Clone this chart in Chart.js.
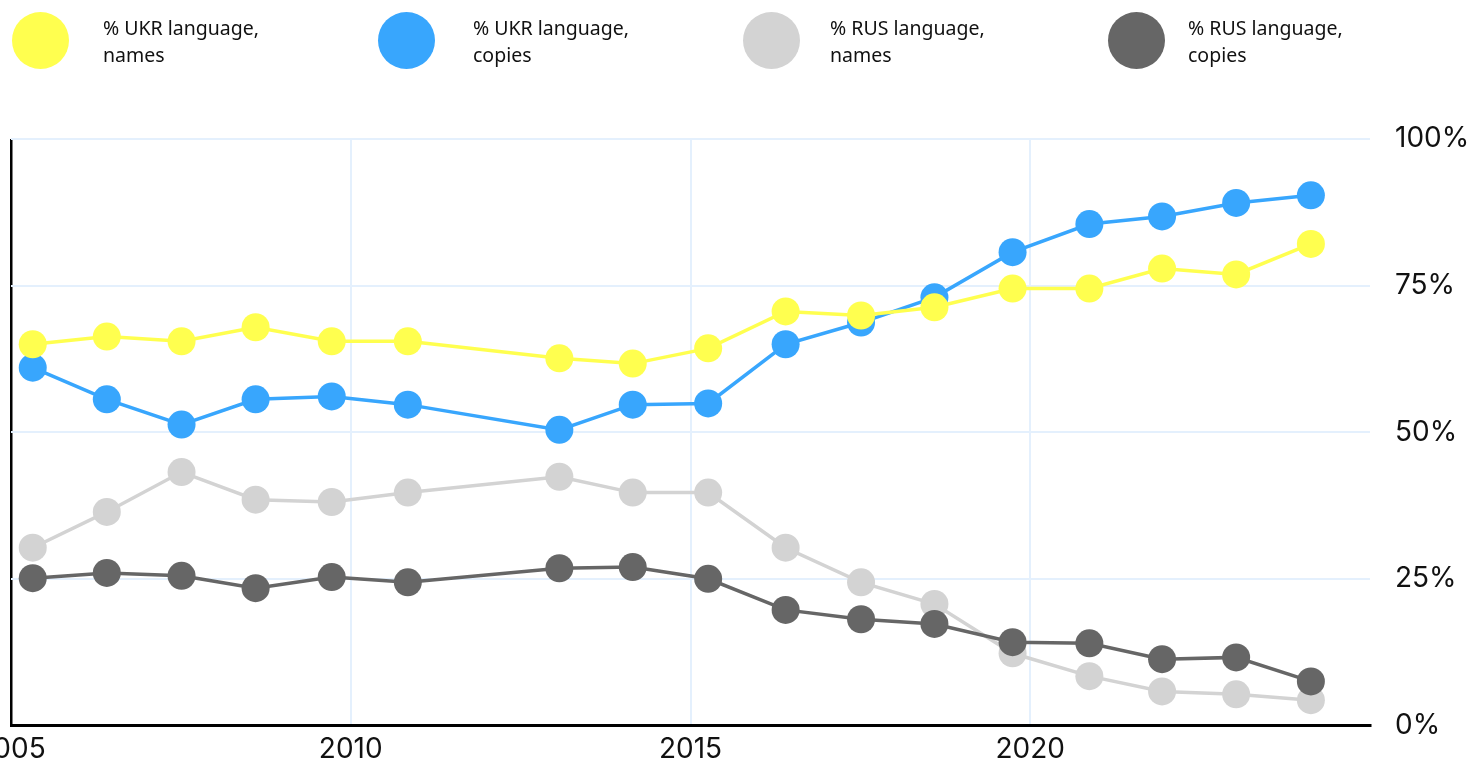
<!DOCTYPE html>
<html>
<head>
<meta charset="utf-8">
<script src="https://cdn.jsdelivr.net/npm/chart.js@4"></script>
<style>
  html, body { margin: 0; padding: 0; background: #fff; overflow: hidden; }
  #wrap { position: relative; width: 1473px; height: 762px; overflow: hidden; }
  #langChart { display: block; position: absolute; left: -3px; top: 0; }
  #legend { position: absolute; left: 0; top: 0; width: 1473px; height: 80px; font-family: "Noto Sans", sans-serif; font-size: 19.5px; line-height: 27px; color: #111; }
  .item { position: absolute; top: 12px; display: flex; align-items: center; }
  .dot { width: 57px; height: 57px; border-radius: 50%; }
</style>
</head>
<body>
<div id="wrap">
  <canvas id="langChart" width="1476" height="773"></canvas>
  <div id="legend"></div>
</div>
<script>
// ── Data ─────────────────────────────────────────────────────
const years = [2005.32, 2006.41, 2007.51, 2008.6, 2009.72, 2010.84, 2013.07, 2014.15, 2015.26,
               2016.4, 2017.51, 2018.59, 2019.74, 2020.87, 2021.94, 2023.03, 2024.13];
const ukrNames  = [65.0, 66.3, 65.5, 67.9, 65.5, 65.5, 62.6, 61.7, 64.3, 70.6, 69.9, 71.3, 74.5, 74.5, 77.9, 76.9, 82.1];
const ukrCopies = [61.0, 55.6, 51.3, 55.6, 56.1, 54.7, 50.4, 54.7, 54.9, 65.0, 68.7, 73.0, 80.7, 85.5, 86.8, 89.1, 90.4];
const rusNames  = [30.3, 36.4, 43.2, 38.5, 38.1, 39.7, 42.4, 39.7, 39.7, 30.3, 24.4, 20.7, 12.3, 8.4, 5.8, 5.3, 4.3];
const rusCopies = [25.1, 26.0, 25.5, 23.4, 25.3, 24.4, 26.8, 27.0, 25.0, 19.7, 18.1, 17.3, 14.2, 14.0, 11.3, 11.6, 7.5];
const xTicks = [2005, 2010, 2015, 2020, 2025];
const yTicks = [0, 25, 50, 75, 100];

const series = [
    { label: '% UKR language,\nnames',  values: ukrNames,  color: '#ffff4f', order: 0 },
    { label: '% UKR language,\ncopies', values: ukrCopies, color: '#38a6fd', order: 1 },
    { label: '% RUS language,\nnames',  values: rusNames,  color: '#d3d3d3', order: 3 },
    { label: '% RUS language,\ncopies', values: rusCopies, color: '#666666', order: 2 }
];

// ── Legend (HTML) ────────────────────────────────────────────
const legendLeft = [12, 378, 743, 1108];
const legendGap = [34, 38, 30, 23];
const legendEl = document.getElementById('legend');
series.forEach((s, i) => {
    const item = document.createElement('div');
    item.className = 'item';
    item.style.left = legendLeft[i] + 'px';
    const dot = document.createElement('div');
    dot.className = 'dot';
    dot.style.background = s.color;
    const txt = document.createElement('div');
    txt.style.marginLeft = legendGap[i] + 'px';
    txt.innerHTML = s.label.replace('\n', '<br>');
    item.appendChild(dot);
    item.appendChild(txt);
    legendEl.appendChild(item);
});

// ── Line chart ───────────────────────────────────────────────
const gridBlue = '#e4f0fd';
const ctx = document.getElementById('langChart').getContext('2d');
new Chart(ctx, {
    type: 'line',
    data: {
        datasets: series.map(s => ({
            label: s.label,
            data: years.map((x, i) => ({ x: x, y: s.values[i] })),
            borderColor: s.color,
            backgroundColor: s.color,
            borderWidth: 3.5,
            pointRadius: 14,
            pointHoverRadius: 14,
            pointBorderWidth: 0,
            tension: 0,
            order: s.order,
            clip: false
        }))
    },
    options: {
        responsive: false,
        animation: false,
        layout: { padding: { left: 8, top: 139, right: 0, bottom: 0 } },
        plugins: { legend: { display: false }, tooltip: { enabled: false } },
        scales: {
            x: {
                type: 'linear',
                min: 2005,
                max: 2025,
                afterBuildTicks: axis => { axis.ticks = xTicks.map(v => ({ value: v })); },
                afterFit: axis => { axis.paddingLeft = 0; axis.paddingRight = 0; },
                grid: {
                    drawTicks: false,
                    color: c => c.tick && c.tick.value === 2005 ? '#000' : (c.tick && c.tick.value === 2025 ? 'rgba(0,0,0,0)' : gridBlue),
                    lineWidth: c => c.tick && c.tick.value === 2005 ? 2.5 : 2
                },
                border: { display: true, color: '#000', width: 3 },
                ticks: {
                    maxRotation: 0,
                    autoSkip: false,
                    padding: 7,
                    color: '#111',
                    font: { family: 'Inter', size: 28 },
                    callback: v => (v === 2025 ? '' : String(v))
                }
            },
            y: {
                position: 'right',
                min: 0,
                max: 100,
                afterBuildTicks: axis => { axis.ticks = yTicks.map(v => ({ value: v })); },
                afterFit: axis => { axis.width = 103; },
                grid: {
                    drawTicks: false,
                    color: c => c.tick && c.tick.value === 0 ? '#000' : gridBlue,
                    lineWidth: c => c.tick && c.tick.value === 0 ? 3 : 2
                },
                border: { display: false },
                ticks: {
                    padding: 25,
                    color: '#111',
                    font: { family: 'Inter', size: 28 },
                    callback: v => v + '%'
                }
            }
        }
    }
});
</script>
</body>
</html>
